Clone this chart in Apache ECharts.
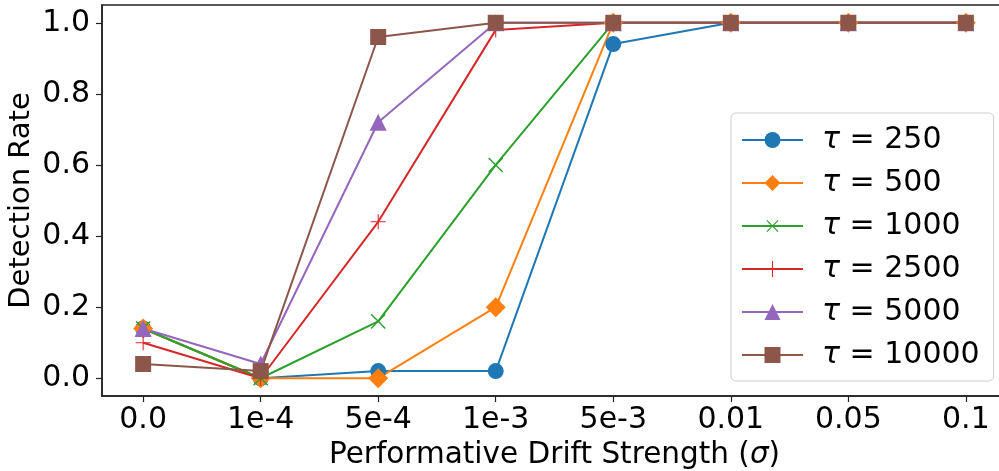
<!DOCTYPE html>
<html>
<head>
<meta charset="utf-8">
<script src="https://cdn.jsdelivr.net/npm/echarts@6/dist/echarts.min.js"></script>
<style>
  html, body { margin: 0; padding: 0; background: #fff; }
  #chart { width: 999px; height: 471px; }
</style>
</head>
<body>
<div id="chart"></div>
<script>
// categories on the x axis (drift strength)
var xLabels = ['0.0', '1e-4', '5e-4', '1e-3', '5e-3', '0.01', '0.05', '0.1'];
var yTicks = [0, 0.2, 0.4, 0.6, 0.8, 1.0];

// detection rate per tau
var tauNames = ['250', '500', '1000', '2500', '5000', '10000'];
var tau250   = [0.14, 0.00, 0.02, 0.02, 0.94, 1.00, 1.00, 1.00];
var tau500   = [0.14, 0.00, 0.00, 0.20, 1.00, 1.00, 1.00, 1.00];
var tau1000  = [0.14, 0.00, 0.16, 0.60, 1.00, 1.00, 1.00, 1.00];
var tau2500  = [0.10, 0.00, 0.44, 0.98, 1.00, 1.00, 1.00, 1.00];
var tau5000  = [0.14, 0.04, 0.72, 1.00, 1.00, 1.00, 1.00, 1.00];
var tau10000 = [0.04, 0.02, 0.96, 1.00, 1.00, 1.00, 1.00, 1.00];

var allValues = [tau250, tau500, tau1000, tau2500, tau5000, tau10000];
var colors = ['#1f77b4', '#ff7f0e', '#2ca02c', '#d62728', '#9467bd', '#8c564b'];

var plusPath = 'path://M9.3,0H10.7V9.3H20V10.7H10.7V20H9.3V10.7H0V9.3H9.3Z';
var symbols = ['circle', 'diamond', plusPath, plusPath, 'triangle', 'rect'];
var symbolSizes = [16, 20, 20, 15, 17, 16];
var symbolRotates = [0, 0, 45, 0, 0, 0];

var font = 'DejaVu Sans';

var chart = echarts.init(document.getElementById('chart'));

var series = allValues.map(function (vals, k) {
  return {
    name: tauNames[k],
    type: 'line',
    data: vals.map(function (v, i) { return [i, v]; }),
    symbol: symbols[k],
    symbolSize: symbolSizes[k],
    symbolRotate: symbolRotates[k],
    showAllSymbol: true,
    lineStyle: { color: colors[k], width: 2 },
    itemStyle: { color: colors[k], opacity: 1 },
    emphasis: { disabled: true },
    animation: false
  };
});

var option = {
  animation: false,
  color: colors,
  grid: {
    left: 102, width: 905, top: 5, height: 391,
    containLabel: false,
    outerBoundsMode: 'none',
    show: true, borderColor: '#222', borderWidth: 1.5
  },
  legend: {
    orient: 'vertical',
    left: 731, top: 113,
    padding: [12, 14, 11, 10],
    itemWidth: 61,
    itemHeight: 20,
    itemGap: 13,
    backgroundColor: 'rgba(255,255,255,0.85)',
    borderColor: '#cccccc',
    borderWidth: 1,
    borderRadius: 5,
    data: tauNames,
    formatter: function (name) { return '{i|τ} = ' + name; },
    textStyle: {
      fontFamily: font, fontSize: 30, color: '#000', padding: [0, 0, 0, 14],
      rich: { i: { fontFamily: font, fontSize: 30, fontStyle: 'italic', color: '#000' } }
    }
  },
  xAxis: {
    type: 'value',
    min: -0.35, max: 7.35,
    name: 'Performative Drift Strength ({i|σ})',
    nameLocation: 'middle',
    nameGap: 44,
    nameMoveOverlap: false,
    nameTextStyle: {
      fontFamily: font, fontSize: 29.5, color: '#000',
      rich: { i: { fontFamily: font, fontSize: 29.5, fontStyle: 'italic', color: '#000' } }
    },
    axisLine: { onZero: false, lineStyle: { color: '#222', width: 1.5 } },
    axisTick: { customValues: [0, 1, 2, 3, 4, 5, 6, 7], length: 6, lineStyle: { color: '#222', width: 1.2 } },
    axisLabel: {
      customValues: [0, 1, 2, 3, 4, 5, 6, 7],
      fontFamily: font, fontSize: 30, color: '#000', margin: 9,
      formatter: function (v) { return xLabels[Math.round(v)]; }
    },
    splitLine: { show: false }
  },
  yAxis: {
    type: 'value',
    min: -0.05, max: 1.05,
    name: 'Detection Rate',
    nameLocation: 'middle',
    nameGap: 66,
    nameMoveOverlap: false,
    nameTextStyle: { fontFamily: font, fontSize: 29, color: '#000' },
    axisLine: { show: true, onZero: false, lineStyle: { color: '#222', width: 1.5 } },
    axisTick: { show: true, customValues: yTicks, length: 6, lineStyle: { color: '#222', width: 1.2 } },
    axisLabel: {
      customValues: yTicks,
      fontFamily: font, fontSize: 30, color: '#000', margin: 12,
      formatter: function (v) { return v.toFixed(1); }
    },
    splitLine: { show: false }
  },
  series: series
};

chart.setOption(option);
</script>
</body>
</html>
